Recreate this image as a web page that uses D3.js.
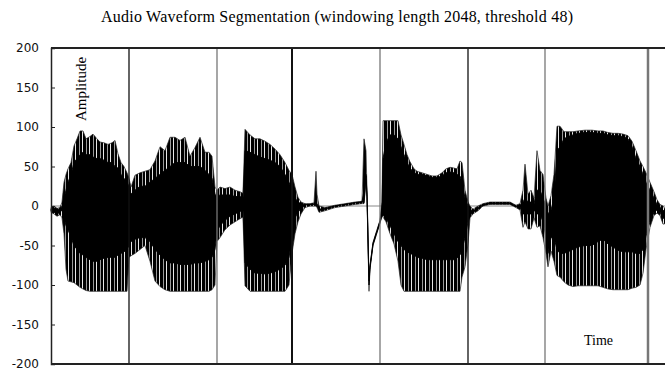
<!DOCTYPE html>
<html>
<head>
<meta charset="utf-8">
<script src="https://cdn.jsdelivr.net/npm/d3@7/dist/d3.min.js"></script>
<style>
  body { margin: 0; background: #fff; }
  .tick text { font-family: "DejaVu Sans", sans-serif; }
</style>
</head>
<body>
<svg id="chart" width="665" height="371"></svg>
<script>
// envelope of the waveform (time in frames, amplitude)
const time = [
  0, 3, 6, 9, 11, 13, 15, 17, 20, 23, 26, 29, 32, 35, 39, 42, 46, 49, 53, 57, 61, 64, 67, 70, 73, 76, 78,
  80, 84, 89, 94, 99, 104, 109, 114, 119, 124, 129, 134, 139, 144, 149, 154, 158, 161, 164, 166,
  169, 174, 179, 184, 189, 192, 194, 199, 204, 209, 214, 219, 224, 229, 234, 238, 241,
  244, 247, 250, 254, 259, 263, 265, 266, 268, 274, 284, 294, 304, 311, 313, 315, 316, 318, 319, 322, 326, 329, 331,
  332, 335, 339, 343, 347, 350, 353, 356, 359, 363, 366, 371, 376, 381, 386, 391, 395, 399, 403, 406, 409, 411, 414, 417, 419,
  422, 427, 432, 439, 449, 459, 465, 469, 472, 474, 477, 480, 483, 486, 489, 492, 495, 497, 500, 503,
  506, 509, 513, 517, 522, 527, 534, 541, 547, 552, 557, 562, 567, 572, 577, 581, 585, 589, 592, 595, 599, 603, 606, 609, 612, 615, 620
];
const peakHi = [
  -2, 0, -3, -2, 5, 30, 40, 47, 55, 76, 85, 95, 95, 85, 88, 91, 85, 81, 80, 78, 80, 83, 66, 55, 50, 42, 35,
  24, 39, 42, 44, 46, 57, 75, 70, 87, 87, 83, 87, 63, 74, 87, 68, 68, 63, 24, 20,
  24, 22, 24, 20, 18, 16, 97, 90, 85, 85, 82, 78, 72, 65, 55, 45, 40,
  24, 11, 5, 3, 3, 4, 44, 15, 0, -2, 1, 3, 5, 6, 85, 70, 20, -90, -75, -46, -30, -18, 5,
  108, 108, 108, 108, 108, 90, 78, 65, 56, 47, 44, 42, 40, 38, 38, 42, 47, 49, 48, 47, 57, 55, 20, 5, 0,
  -4, 0, 3, 5, 5, 5, 1, 3, 20, 53, 15, 20, 10, 70, 45, 40, 10, 0, 13, 40,
  101, 101, 94, 94, 94, 95, 96, 96, 95, 95, 93, 92, 92, 91, 89, 82, 70, 57, 50, 42, 30, 18, 8, 2, 0, -5, -2
];
const bodyHi = [
  -4, -2, -5, -4, 0, 10, 20, 30, 40, 55, 60, 65, 68, 65, 65, 62, 60, 60, 58, 55, 55, 50, 48, 40, 35, 30, 25,
  15, 20, 25, 25, 30, 35, 40, 45, 50, 55, 55, 55, 50, 50, 50, 45, 40, 35, 15, 12,
  14, 14, 14, 12, 12, 10, 70, 68, 65, 62, 60, 58, 55, 50, 40, 30, 20,
  10, 5, 3, 2, 2, 3, 3, 3, -4, -3, 0, 2, 4, 5, 20, 40, 15, -95, -76, -47, -31, -19, 0,
  60, 80, 90, 90, 85, 75, 65, 55, 48, 42, 40, 40, 38, 36, 36, 38, 42, 43, 42, 40, 38, 30, 10, 0, -5,
  -6, -2, 2, 4, 4, 4, 0, 1, 5, 10, 5, 5, 3, 20, 20, 10, 0, -10, -5, 10,
  70, 75, 85, 88, 90, 92, 93, 93, 92, 92, 90, 89, 89, 88, 85, 75, 60, 50, 40, 30, 20, 10, 2, -2, -5, -10, -5
];
const bodyLo = [
  -6, -8, -10, -8, -5, -15, -25, -30, -40, -50, -55, -60, -62, -65, -68, -70, -70, -68, -66, -65, -65, -65, -62, -60, -58, -55, -50,
  -45, -42, -40, -40, -45, -55, -62, -68, -72, -72, -74, -74, -74, -72, -72, -70, -68, -65, -55, -32,
  -25, -18, -13, -10, -7, -5, -72, -80, -85, -85, -86, -85, -83, -80, -75, -65, -40,
  -15, -8, -3, 1, 2, 2, 2, 0, -6, -4, 0, 2, 4, 5, 4, 38, 12, -100, -78, -49, -33, -21, -11,
  -12, -15, -25, -35, -45, -50, -55, -58, -60, -62, -65, -66, -68, -68, -68, -68, -68, -68, -68, -66, -62, -55, -40, -20, -12,
  -8, -4, 1, 3, 3, 3, -1, -2, -10, -10, -10, -10, -5, -10, -10, -20, -40, -60, -40, -40,
  -55, -60, -60, -58, -55, -52, -50, -50, -45, -42, -48, -52, -56, -58, -58, -58, -60, -60, -55, -38, -20, -8, -5, -8, -15, -18, -10
];
const peakLo = [
  -8, -10, -13, -11, -15, -35, -80, -95, -96, -97, -100, -103, -105, -107, -108, -108, -108, -108, -108, -108, -108, -108, -108, -108, -108, -108, -65,
  -63, -60, -55, -50, -70, -95, -102, -106, -108, -108, -108, -108, -108, -108, -108, -108, -108, -106, -100, -45,
  -40, -30, -24, -20, -16, -14, -101, -108, -108, -108, -108, -108, -108, -108, -108, -100, -60,
  -35, -20, -10, -2, 0, 0, 0, -2, -8, -6, -2, 0, 2, 3, 3, 30, 10, -108, -80, -50, -34, -22, -13,
  -14, -20, -35, -48, -70, -100, -108, -108, -108, -108, -108, -108, -108, -108, -108, -108, -108, -108, -108, -108, -108, -90, -77, -48, -15,
  -10, -6, 0, 2, 2, 2, -2, -5, -27, -20, -29, -29, -15, -27, -25, -40, -60, -77, -57, -70,
  -88, -90, -96, -100, -102, -101, -101, -101, -101, -103, -105, -106, -106, -106, -106, -104, -103, -100, -85, -55, -27, -12, -9, -12, -23, -22, -14
];
// segment boundaries found by the windowing (same time units)
const boundaries = [78, 166, 241, 329, 417, 494, 597];
const yTicks = [200, 150, 100, 50, 0, -50, -100, -150, -200];

const svg = d3.select("#chart");
const plotLeft = 51, plotRight = 671, plotTop = 48, plotBottom = 364;

const x = d3.scaleLinear().domain([0, 620]).range([plotLeft, plotRight]);
const y = d3.scaleLinear().domain([-200, 200]).range([plotBottom, plotTop]);

const rows = time.map((t, i) => ({ t: t, ph: peakHi[i], bh: bodyHi[i], bl: bodyLo[i], pl: peakLo[i] }));

// striped fill to mimic the individual oscillation strokes at the peaks
const pat = svg.append("defs").append("pattern")
  .attr("id", "strokes")
  .attr("patternUnits", "userSpaceOnUse")
  .attr("width", 7).attr("height", 10);
pat.append("rect").attr("width", 7).attr("height", 10).attr("fill", "#000");
pat.append("rect").attr("x", 2).attr("width", 1).attr("height", 10).attr("fill", "#9a9a9a");
pat.append("rect").attr("x", 5).attr("width", 1).attr("height", 10).attr("fill", "#e8e8e8");

// title
svg.append("text")
  .attr("x", 337)
  .attr("y", 22)
  .attr("text-anchor", "middle")
  .attr("textLength", 472)
  .attr("lengthAdjust", "spacing")
  .style("font-family", "'Liberation Serif', serif")
  .style("font-size", "16px")
  .text("Audio Waveform Segmentation (windowing length 2048, threshold 48)");

// zero line
svg.append("line")
  .attr("x1", plotLeft).attr("x2", plotRight)
  .attr("y1", y(0)).attr("y2", y(0))
  .attr("stroke", "#888").attr("stroke-width", 1);

// outer peaks
svg.append("path")
  .datum(rows)
  .attr("fill", "url(#strokes)")
  .attr("stroke", "#222")
  .attr("stroke-width", 0.7)
  .attr("d", d3.area().x(d => x(d.t)).y0(d => y(d.pl)).y1(d => y(d.ph)));

// dense body of the signal
svg.append("path")
  .datum(rows)
  .attr("fill", "#000")
  .attr("stroke", "#000")
  .attr("stroke-width", 0.9)
  .attr("d", d3.area().x(d => x(d.t)).y0(d => y(d.bl)).y1(d => y(d.bh)));

// segment boundaries
svg.append("g")
  .selectAll("line")
  .data(boundaries)
  .enter().append("line")
  .attr("x1", d => x(d)).attr("x2", d => x(d))
  .attr("y1", plotTop).attr("y2", plotBottom)
  .attr("stroke", (d, i) => i % 2 === 0 && i < 6 ? "#111" : "#777")
  .attr("stroke-width", (d, i) => i === 6 ? 2.5 : (i === 2 ? 2 : 1.3));

// frame
svg.append("line").attr("x1", plotLeft).attr("x2", 665).attr("y1", plotTop).attr("y2", plotTop)
  .attr("stroke", "#222").attr("stroke-width", 2);
svg.append("line").attr("x1", plotLeft).attr("x2", 665).attr("y1", plotBottom).attr("y2", plotBottom)
  .attr("stroke", "#222").attr("stroke-width", 2);

// y axis
const yAxis = svg.append("g")
  .attr("transform", "translate(" + plotLeft + ",0)")
  .call(d3.axisLeft(y).tickValues(yTicks).tickSize(-4).tickPadding(12).tickFormat(d => String(d)));
yAxis.select(".domain").attr("stroke", "#222").attr("stroke-width", 1.5);
yAxis.selectAll(".tick line").attr("stroke", "#222");
yAxis.selectAll(".tick text").attr("fill", "#111").style("font-size", "12px");

// in-plot labels
svg.append("text")
  .attr("transform", "translate(86,89) rotate(-90)")
  .attr("text-anchor", "middle")
  .style("font-family", "'Liberation Serif', serif")
  .style("font-size", "15px")
  .text("Amplitude");

svg.append("text")
  .attr("x", 584)
  .attr("y", 345)
  .style("font-family", "'Liberation Serif', serif")
  .style("font-size", "14px")
  .text("Time");
</script>
</body>
</html>
